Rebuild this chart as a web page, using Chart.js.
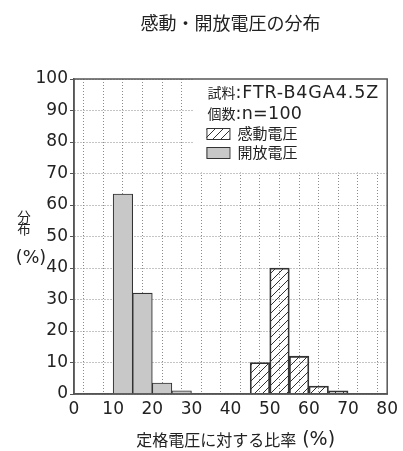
<!DOCTYPE html>
<html lang="ja">
<head>
<meta charset="utf-8">
<title>感動・開放電圧の分布</title>
<script src="https://cdn.jsdelivr.net/npm/chart.js@4.4.1/dist/chart.umd.min.js"></script>
<style>
  html, body { margin: 0; padding: 0; background: #fff; }
  #wrap { width: 403px; height: 451px; position: relative; }
</style>
</head>
<body>
<div id="wrap"><canvas id="distChart"></canvas></div>
<script>
// bins are 5% wide, values are % of the 100 samples
const binWidth = 5;
const releaseBins = [10, 15, 20, 25];
const releaseValues = [63.5, 32, 3.5, 1];
const operateBins = [45, 50, 55, 60, 65];
const operateValues = [10, 40, 12, 2.5, 1];

const chartTitle = '感動・開放電圧の分布';
const xTitle = '定格電圧に対する比率';
const sampleName = 'FTR-B4GA4.5Z';
const sampleCount = 'n=100';
const operateLabel = '感動電圧';
const releaseLabel = '開放電圧';

const CJK = '"Noto Sans CJK JP", sans-serif';
const LATIN = '"DejaVu Sans", "Noto Sans CJK JP", sans-serif';
const INK = '#222';
const EDGE = '#555';
const GRAY = '#c8c8c8';

// diagonal hatch for the operate voltage bars
function makeHatch(ctx) {
    const c = document.createElement('canvas');
    c.width = 8; c.height = 8;
    const g = c.getContext('2d');
    g.strokeStyle = '#333';
    g.lineWidth = 1;
    g.beginPath();
    g.moveTo(0, 8); g.lineTo(8, 0);
    g.moveTo(-1, 1); g.lineTo(1, -1);
    g.moveTo(7, 9); g.lineTo(9, 7);
    g.stroke();
    return ctx.createPattern(c, 'repeat');
}

// draw text pieces with different fonts one after another
function drawRun(ctx, parts, x, y, align) {
    let total = 0;
    parts.forEach(p => {
        ctx.font = p[1];
        ctx.letterSpacing = p[2] || '0px';
        total += ctx.measureText(p[0]).width;
    });
    let cx = align === 'center' ? x - total / 2 : x;
    ctx.textAlign = 'left';
    ctx.textBaseline = 'middle';
    parts.forEach(p => {
        ctx.font = p[1];
        ctx.letterSpacing = p[2] || '0px';
        ctx.fillText(p[0], cx, y);
        cx += ctx.measureText(p[0]).width;
    });
    ctx.letterSpacing = '0px';
}

const canvas = document.getElementById('distChart');
const hatch = makeHatch(canvas.getContext('2d'));

const overlay = {
    id: 'overlay',
    beforeDatasetsDraw(chart) {
        const {ctx, chartArea: a, scales: {x, y}} = chart;
        const bx = x.getPixelForValue(30) + 2;
        const by = y.getPixelForValue(70) - 1;
        ctx.save();
        // legend box covers the grid
        ctx.fillStyle = '#fff';
        ctx.fillRect(bx, a.top, a.right - bx, by - a.top);

        ctx.fillStyle = INK;
        const tx = bx + 14;
        drawRun(ctx, [['試料', '14px ' + CJK], [':' + sampleName, '17.5px ' + LATIN, '0.9px']], tx, a.top + 14);
        drawRun(ctx, [['個数', '14px ' + CJK], [':' + sampleCount, '17.5px ' + LATIN, '0.3px']], tx, a.top + 35);

        const sx = bx + 13, sw = 23, sh = 11;
        ctx.lineWidth = 1;
        ctx.strokeStyle = '#333';
        ctx.fillStyle = hatch;
        ctx.fillRect(sx, a.top + 49, sw, sh);
        ctx.strokeRect(sx + 0.5, a.top + 49.5, sw, sh);
        ctx.fillStyle = GRAY;
        ctx.fillRect(sx, a.top + 68, sw, sh);
        ctx.strokeRect(sx + 0.5, a.top + 68.5, sw, sh);

        ctx.fillStyle = INK;
        drawRun(ctx, [[operateLabel, '15px ' + CJK]], sx + 31, a.top + 54.5);
        drawRun(ctx, [[releaseLabel, '15px ' + CJK]], sx + 31, a.top + 73.5);
        ctx.restore();
    },
    afterDraw(chart) {
        const {ctx, chartArea: a} = chart;
        ctx.save();
        ctx.strokeStyle = EDGE;
        ctx.lineWidth = 1.5;
        ctx.strokeRect(a.left, a.top, a.right - a.left, a.bottom - a.top);

        ctx.fillStyle = INK;
        drawRun(ctx, [[chartTitle, '18px ' + CJK]], (a.left + a.right) / 2, 23, 'center');
        drawRun(ctx, [[xTitle, '16px ' + CJK], [' (%)', '19px ' + LATIN]], (a.left + a.right) / 2 + 5, 440, 'center');

        ctx.textAlign = 'center';
        ctx.textBaseline = 'middle';
        ctx.font = '13.5px ' + CJK;
        ctx.fillText('分', 24, 217);
        ctx.fillText('布', 24, 229);
        ctx.font = '17.5px ' + LATIN;
        ctx.fillText('(%)', 31, 258);
        ctx.restore();
    }
};

const barStyle = {
    borderColor: '#333',
    borderWidth: 1.1,
    borderSkipped: 'start',
    barPercentage: 1,
    categoryPercentage: 1,
    grouped: false
};

new Chart(canvas, {
    type: 'bar',
    data: {
        datasets: [
            Object.assign({
                label: operateLabel,
                data: operateBins.map((b, i) => ({x: b + binWidth / 2, y: operateValues[i]})),
                backgroundColor: hatch
            }, barStyle),
            Object.assign({
                label: releaseLabel,
                data: releaseBins.map((b, i) => ({x: b + binWidth / 2, y: releaseValues[i]})),
                backgroundColor: GRAY
            }, barStyle)
        ]
    },
    options: {
        responsive: true,
        maintainAspectRatio: false,
        animation: false,
        layout: { padding: { top: 79, right: 12, left: 0, bottom: 0 } },
        plugins: {
            legend: { display: false },
            title: { display: false },
            tooltip: { enabled: false }
        },
        scales: {
            x: {
                type: 'linear',
                min: 0,
                max: 80,
                offset: false,
                afterFit: s => { s.height = 57; },
                ticks: {
                    stepSize: 5,
                    autoSkip: false,
                    maxRotation: 0,
                    padding: 5,
                    color: INK,
                    font: { family: LATIN, size: 17 },
                    callback: v => (v % 10 === 0 ? v : '')
                },
                grid: { color: '#8a8a8a', lineWidth: 1, drawTicks: false },
                border: { display: true, color: EDGE, width: 1.5, dash: [1, 2] }
            },
            y: {
                min: 0,
                max: 100,
                afterFit: s => { s.width = 74; },
                ticks: {
                    stepSize: 10,
                    padding: 2,
                    color: INK,
                    font: { family: LATIN, size: 17 }
                },
                grid: { color: '#8a8a8a', lineWidth: 1, tickLength: 4, tickColor: EDGE, tickBorderDash: [] },
                border: { display: true, color: EDGE, width: 1.5, dash: [1, 2] }
            }
        }
    },
    plugins: [overlay]
});
</script>
</body>
</html>
